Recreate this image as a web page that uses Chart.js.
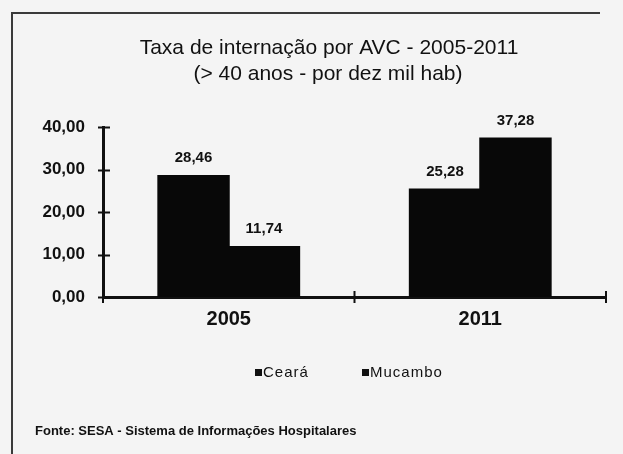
<!DOCTYPE html>
<html>
<head>
<meta charset="utf-8">
<script src="https://cdn.jsdelivr.net/npm/chart.js@4"></script>
<style>
  html, body { margin: 0; padding: 0; background: #f4f4f4; }
  #wrap { width: 623px; height: 454px; }
</style>
</head>
<body>
<div id="wrap"><canvas id="myChart" width="623" height="454"></canvas></div>
<script>
const years = ['2005', '2011'];
const ceara = [28.46, 25.28];
const mucambo = [11.74, 37.28];
const seriesNames = ['Ceará', 'Mucambo'];
const yTicks = [0, 10, 20, 30, 40];
const titleLines = ['Taxa de internação por AVC - 2005-2011', '(> 40 anos - por dez mil hab)'];
const sourceNote = 'Fonte: SESA - Sistema de Informações Hospitalares';

const fmt = v => v.toFixed(2).replace('.', ',');
const ink = '#111';

// frame, title, legend, source and crossing tick marks
const decor = {
    id: 'decor',
    beforeDraw(chart) {
        const c = chart.ctx;
        c.save();
        c.fillStyle = '#f4f4f4';
        c.fillRect(0, 0, chart.width, chart.height);
        c.strokeStyle = '#3a3a3a';
        c.lineWidth = 2;
        c.beginPath();
        c.moveTo(12, chart.height);
        c.lineTo(12, 13);
        c.lineTo(600, 13);
        c.stroke();
        c.restore();
    },
    afterDraw(chart) {
        const c = chart.ctx;
        const area = chart.chartArea;
        const x = chart.scales.x, y = chart.scales.y;
        c.save();
        c.strokeStyle = ink;
        c.lineWidth = 2;
        yTicks.forEach(v => {
            const py = Math.round(y.getPixelForValue(v)) + 0.5;
            c.beginPath();
            c.moveTo(area.left - 5, py);
            c.lineTo(area.left + 7, py);
            c.stroke();
        });
        const half = (x.getPixelForValue(1) - x.getPixelForValue(0)) / 2;
        const bounds = [x.getPixelForValue(0) - half, x.getPixelForValue(0) + half, x.getPixelForValue(1) + half];
        bounds.forEach(px => {
            c.beginPath();
            c.moveTo(px, area.bottom - 6);
            c.lineTo(px, area.bottom + 6);
            c.stroke();
        });

        c.fillStyle = ink;
        c.textAlign = 'center';
        c.textBaseline = 'middle';
        c.font = '21px "Liberation Sans", Arial, sans-serif';
        c.fillText(titleLines[0], 329, 48);
        c.fillText(titleLines[1], 328, 74);

        // legend
        c.font = '15px "Liberation Sans", Arial, sans-serif';
        c.letterSpacing = '1px';
        c.textAlign = 'left';
        const legendX = [255, 362];
        seriesNames.forEach((name, i) => {
            c.fillRect(legendX[i], 369, 7, 7);
            c.fillText(name, legendX[i] + 8, 373);
        });

        c.letterSpacing = '0px';
        c.font = 'bold 13px "Liberation Sans", Arial, sans-serif';
        c.fillText(sourceNote, 35, 431);
        c.restore();
    },
    afterDatasetsDraw(chart) {
        const c = chart.ctx;
        c.save();
        c.fillStyle = ink;
        c.font = 'bold 15px "Liberation Sans", Arial, sans-serif';
        c.textAlign = 'center';
        c.textBaseline = 'middle';
        chart.data.datasets.forEach((ds, i) => {
            chart.getDatasetMeta(i).data.forEach((bar, j) => {
                c.fillText(fmt(ds.data[j]), bar.x, bar.y - 18);
            });
        });
        c.restore();
    }
};

const ctx = document.getElementById('myChart');
new Chart(ctx, {
    type: 'bar',
    data: {
        labels: years,
        datasets: [
            { label: seriesNames[0], data: ceara, backgroundColor: '#080808', borderWidth: 0, inflateAmount: 1 },
            { label: seriesNames[1], data: mucambo, backgroundColor: '#080808', borderWidth: 0, inflateAmount: 1 }
        ]
    },
    options: {
        responsive: false,
        animation: false,
        devicePixelRatio: 1,
        layout: { padding: { top: 127, right: 17, left: 0, bottom: 0 } },
        datasets: { bar: { barPercentage: 1, categoryPercentage: 0.56 } },
        plugins: {
            legend: { display: false },
            title: { display: false },
            tooltip: { enabled: false }
        },
        scales: {
            x: {
                offset: true,
                grid: { display: false, drawTicks: false },
                border: { display: true, color: ink, width: 3 },
                ticks: { color: ink, padding: 10, font: { family: '"Liberation Sans", Arial, sans-serif', size: 20, weight: 'bold' } },
                afterFit(scale) { scale.height = 157; }
            },
            y: {
                min: 0,
                max: 40,
                grid: { display: false, drawTicks: false },
                border: { display: true, color: ink, width: 3 },
                ticks: {
                    stepSize: 10,
                    color: ink,
                    padding: 18,
                    font: { family: '"Liberation Sans", Arial, sans-serif', size: 17, weight: 'bold' },
                    callback: v => fmt(v)
                },
                afterFit(scale) { scale.width = 103; }
            }
        }
    },
    plugins: [decor]
});
</script>
</body>
</html>
